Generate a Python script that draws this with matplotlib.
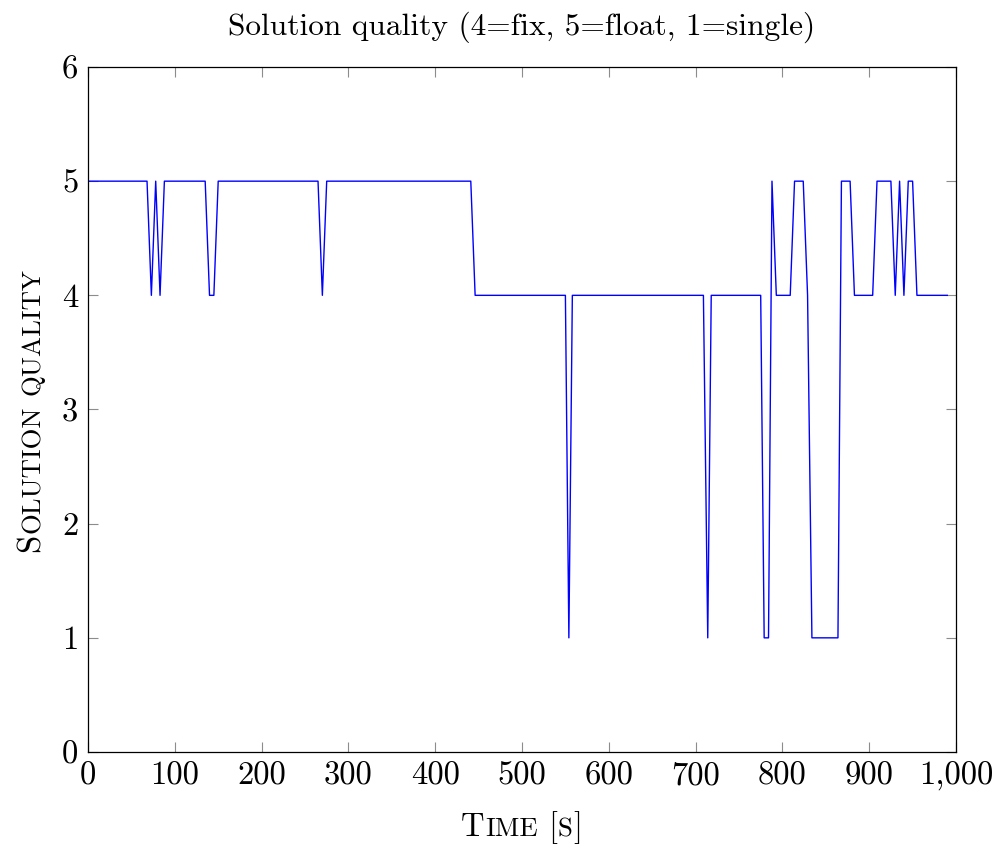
import matplotlib
matplotlib.use("Agg")
import matplotlib.pyplot as plt
from matplotlib.transforms import IdentityTransform

# GNSS solution quality over time (4=fix, 5=float, 1=single)
time_s = [0, 68, 73, 78, 83, 88, 135, 140, 145, 150, 265, 270, 275, 441, 446,
          550, 554, 558, 709, 714, 718, 775, 779, 784, 788, 793, 809, 814, 824,
          829, 834, 864, 868, 878, 883, 904, 909, 925, 930, 935, 940, 945, 950,
          955, 990]
quality = [5, 5, 4, 5, 4, 5, 5, 4, 4, 5, 5, 4, 5, 5, 4,
           4, 1, 4, 4, 1, 4, 4, 1, 1, 5, 4, 4, 5, 5,
           4, 1, 1, 5, 5, 4, 4, 5, 5, 4, 5, 4, 5, 5,
           4, 4]

x_ticks = [0, 100, 200, 300, 400, 500, 600, 700, 800, 900, 1000]
x_tick_labels = ["0", "100", "200", "300", "400", "500", "600", "700", "800", "900", "1,000"]
y_ticks = [0, 1, 2, 3, 4, 5, 6]
y_tick_labels = ["0", "1", "2", "3", "4", "5", "6"]

title = "Solution quality (4=fix, 5=float, 1=single)"

plt.rcParams["font.family"] = "cmr10"
plt.rcParams["mathtext.fontset"] = "cm"
plt.rcParams["axes.formatter.use_mathtext"] = True

W, H = 997, 847
DPI = 100
FS = 23.5
TITLE_FS = 22.6
SMALL = FS * 0.82

fig = plt.figure(figsize=(W / DPI, H / DPI), dpi=DPI)
ax = fig.add_axes([88 / W, (H - 752) / H, (956 - 88) / W, (752 - 67) / H])

ax.plot(time_s, quality, color="#0000ff", lw=1.0)

ax.set_xlim(0, 1000)
ax.set_ylim(0, 6)
ax.set_xticks(x_ticks)
ax.set_xticklabels(x_tick_labels)
ax.set_yticks(y_ticks)
ax.set_yticklabels(y_tick_labels)
ax.tick_params(direction="in", length=7.5, width=0.8, color="#8c8c8c",
               labelsize=FS, top=True, right=True, pad=7)
for sp in ax.spines.values():
    sp.set_linewidth(0.9)
    sp.set_color("black")

fig.text(522 / W, (H - 35) / H, title, fontsize=TITLE_FS, ha="center", va="baseline")

fig.canvas.draw()
renderer = fig.canvas.get_renderer()


def text_width(s, size):
    t = fig.text(0, 0, s, fontsize=size)
    w = t.get_window_extent(renderer).width
    t.remove()
    return w


def small_caps(pieces, center, baseline, vertical=False, gap=1.0):
    """Draw a run of (text, size) pieces; None stands for a word space."""
    space = text_width("a a", SMALL) - text_width("aa", SMALL)
    widths = [space if p is None else text_width(p[0], p[1]) + gap for p in pieces]
    pos = center - sum(widths) / 2
    for p, w in zip(pieces, widths):
        if p is not None:
            if vertical:
                fig.text(baseline, pos, p[0], fontsize=p[1], rotation=90,
                         rotation_mode="anchor", ha="left", va="baseline",
                         transform=IdentityTransform())
            else:
                fig.text(pos, baseline, p[0], fontsize=p[1], ha="left",
                         va="baseline", transform=IdentityTransform())
        pos += w


small_caps([("T", FS), ("IME", SMALL), None, ("[", FS), ("S", SMALL), ("]", FS)],
           center=522, baseline=H - 836)
small_caps([("S", FS), ("OLUTION", SMALL), None, ("QUALITY", SMALL)],
           center=H - 409.5, baseline=40, vertical=True)

fig.savefig("out.png", dpi=DPI)
